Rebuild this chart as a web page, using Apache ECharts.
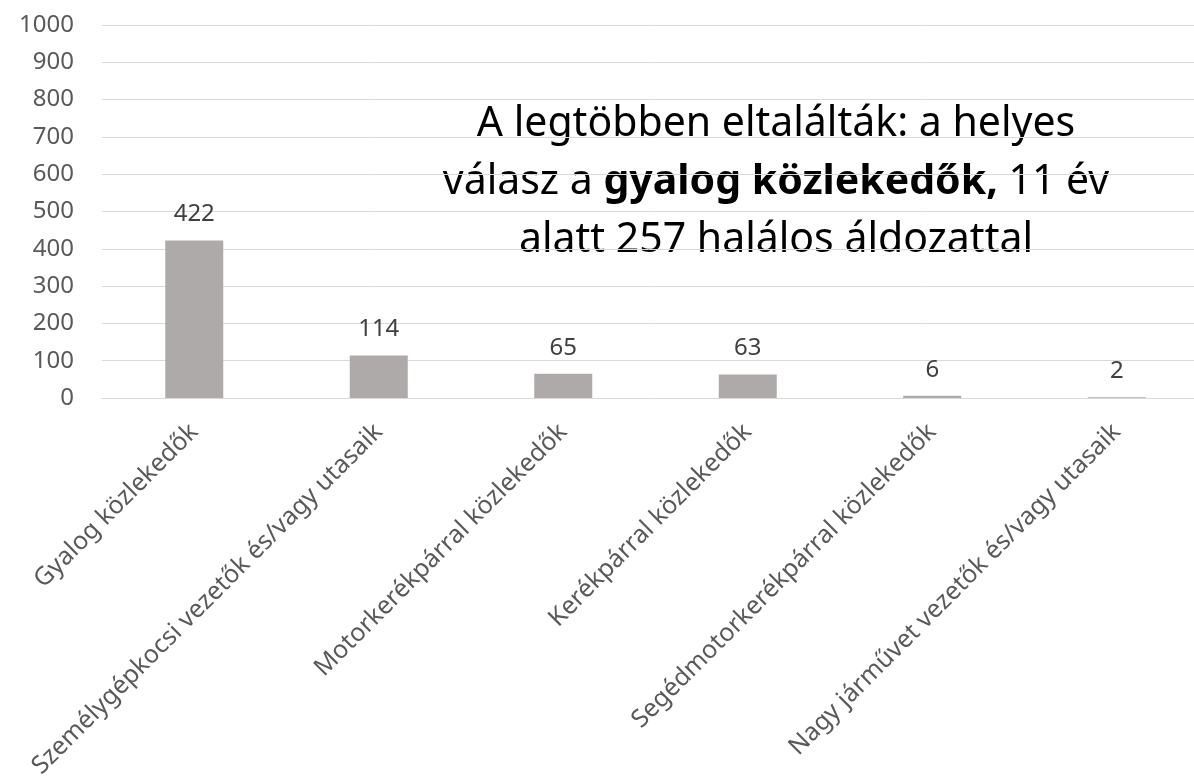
<!DOCTYPE html>
<html>
<head>
<meta charset="utf-8">
<script src="https://cdn.jsdelivr.net/npm/echarts@6/dist/echarts.min.js"></script>
<style>
  html, body { margin: 0; padding: 0; background: #fff; }
  #chart { width: 1194px; height: 779px; }
</style>
</head>
<body>
<div id="chart"></div>
<script>
// kategóriák és értékek
var categories = [
    'Gyalog közlekedők',
    'Személygépkocsi vezetők és/vagy utasaik',
    'Motorkerékpárral közlekedők',
    'Kerékpárral közlekedők',
    'Segédmotorkerékpárral közlekedők',
    'Nagy járművet vezetők és/vagy utasaik'
];
var values = [422, 114, 65, 63, 6, 2];
var yTicks = [0, 1000, 100]; // min, max, interval

var font = 'Noto Sans';
var chart = echarts.init(document.getElementById('chart'));

var option = {
    animation: false,
    grid: {
        left: 102,
        top: 25,
        width: 1107,
        height: 373,
        containLabel: false,
        outerBoundsMode: 'none'
    },
    xAxis: {
        type: 'category',
        data: categories,
        axisLine: { lineStyle: { color: '#d9d9d9', width: 1 } },
        axisTick: { show: false },
        axisLabel: {
            rotate: 45,
            interval: 0,
            margin: 30,
            color: '#595959',
            fontSize: 25,
            fontFamily: font
        }
    },
    yAxis: {
        type: 'value',
        min: yTicks[0],
        max: yTicks[1],
        interval: yTicks[2],
        axisLine: { show: false },
        axisTick: { show: false },
        axisLabel: {
            margin: 28,
            color: '#595959',
            fontSize: 24,
            fontFamily: font,
            formatter: function (v) { return String(v); }
        },
        splitLine: { lineStyle: { color: '#d9d9d9', width: 1 } }
    },
    series: [{
        type: 'bar',
        data: values,
        barWidth: 58,
        itemStyle: { color: '#aeaaaa' },
        label: {
            show: true,
            position: 'top',
            distance: 14,
            color: '#404040',
            fontSize: 24,
            fontFamily: font
        }
    }],
    graphic: [{
        type: 'text',
        x: 776,
        y: 95,
        style: {
            text: 'A legtöbben eltalálták: a helyes\n{n|válasz a }{b|gyalog közlekedők,}{n| 11 év}\nalatt 257 halálos áldozattal',
            font: '41px "Noto Sans"',
            fill: '#000',
            align: 'center',
            verticalAlign: 'top',
            lineHeight: 58,
            rich: {
                n: { fontSize: 41, fontFamily: font, lineHeight: 58, fill: '#000' },
                b: { fontSize: 41, fontFamily: font, fontWeight: 'bold', lineHeight: 58, fill: '#000' }
            }
        }
    }]
};

chart.setOption(option);
</script>
</body>
</html>
